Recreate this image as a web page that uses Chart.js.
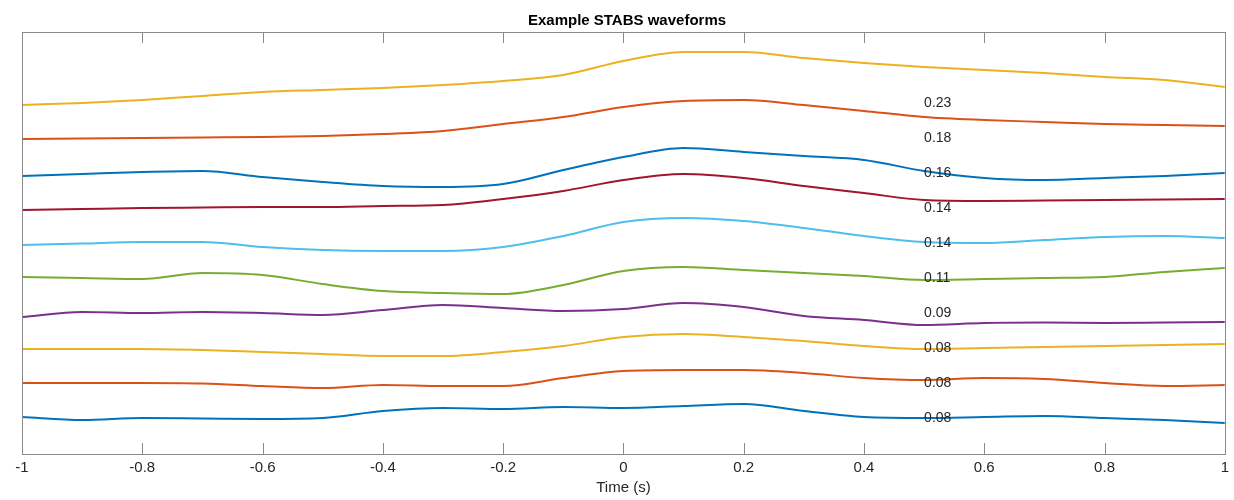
<!DOCTYPE html>
<html>
<head>
<meta charset="utf-8">
<script src="https://cdn.jsdelivr.net/npm/chart.js@4.4.1/dist/chart.umd.min.js"></script>
<style>
  html, body { margin: 0; padding: 0; background: #fff; }
  #wrap { width: 1234px; height: 500px; }
</style>
</head>
<body>
<div id="wrap"><canvas id="c" width="1234" height="500"></canvas></div>
<script>
// Time samples (s)
const times = [-1, -0.9, -0.8, -0.7, -0.6, -0.5, -0.4, -0.3, -0.2, -0.1, 0, 0.1, 0.2, 0.3, 0.4, 0.5, 0.6, 0.7, 0.8, 0.9, 1];

// Stacked waveform traces (vertical offset units, top of plot = 32, bottom = 454; larger = lower)
const trace1  = [105, 103, 100, 96, 92, 90, 88, 85, 81, 75, 61, 52, 52, 58, 63, 67, 70, 73, 77, 80, 87];
const trace2  = [139, 138.5, 138, 137.5, 137, 136, 134, 131, 124, 117, 107, 101, 100, 105, 111, 117, 120, 122, 124, 125, 126];
const trace3  = [176, 174, 172, 171, 177, 182, 186, 187, 184, 170, 157, 148, 152, 156, 160, 171, 178, 180, 178, 176, 173];
const trace4  = [210, 209, 208, 207.5, 207, 207, 206, 205, 199, 191, 180, 174, 178, 186, 193, 200, 201, 200.5, 200, 199.5, 199];
const trace5  = [245, 243.5, 242, 242, 247, 250, 251, 251, 247, 236, 222, 218, 221, 228, 236, 242, 243, 240, 237, 236, 238];
const trace6  = [277, 278, 279, 273, 275, 284, 291, 293, 294, 285, 271, 267, 270, 273, 276, 280, 279, 278, 277, 272, 268];
const trace7  = [317, 312, 313, 312, 313, 315, 310, 305, 308, 311, 309, 303, 307, 316, 320, 325, 323, 322.5, 323, 322.5, 322];
const trace8  = [349, 349, 349, 350, 352, 354, 356, 356, 352, 346, 337, 334, 337, 341, 346, 349, 348, 347, 346, 345, 344];
const trace9  = [383, 383, 383, 383.5, 386, 388, 385, 386, 386, 378, 371, 370, 370, 373, 378, 380, 378, 379, 383, 386, 385];
const trace10 = [417, 420, 418, 418.5, 419, 418, 411, 408, 409, 407, 408, 406, 404, 411, 417, 418, 417, 416, 418, 420, 423];

// Value labels next to traces
const labelTexts = ['0.23', '0.18', '0.16', '0.14', '0.14', '0.11', '0.09', '0.08', '0.08', '0.08'];
const labelYs = [103, 138, 173, 208, 243, 278, 313, 348, 383, 418];
const labelX = 0.5;

// X tick values
const xTicks = [-1, -0.8, -0.6, -0.4, -0.2, 0, 0.2, 0.4, 0.6, 0.8, 1];

const traces = [trace1, trace2, trace3, trace4, trace5, trace6, trace7, trace8, trace9, trace10];
const colors = ['#EDB120', '#D95319', '#0072BD', '#A2142F', '#4DBEEE', '#77AC30', '#7E2F8E', '#EDB120', '#D95319', '#0072BD'];

const FONT = '"Liberation Sans", Arial, Helvetica, sans-serif';
const TXT = '#262626';
const AXC = '#8a8a8a';

const datasets = traces.map((tr, i) => ({
  label: 'trace ' + (i + 1),
  data: tr.map((v, j) => ({ x: times[j], y: v })),
  borderColor: colors[i],
  borderWidth: 2,
  pointRadius: 0,
  fill: false,
  cubicInterpolationMode: 'monotone'
}));

const boxPlugin = {
  id: 'boxPlugin',
  afterDatasetsDraw(chart) {
    const { ctx, chartArea: a, scales } = chart;
    const xs = scales.x, ys = scales.y;
    ctx.save();
    // labels
    ctx.font = '14px ' + FONT;
    ctx.fillStyle = TXT;
    ctx.textAlign = 'left';
    ctx.textBaseline = 'middle';
    labelTexts.forEach((t, i) => {
      ctx.fillText(t, xs.getPixelForValue(labelX), ys.getPixelForValue(labelYs[i]));
    });
    // box
    ctx.strokeStyle = AXC;
    ctx.lineWidth = 1;
    ctx.strokeRect(Math.round(a.left) + 0.5, Math.round(a.top) + 0.5, Math.round(a.right - a.left), Math.round(a.bottom - a.top));
    // inner ticks top and bottom
    ctx.beginPath();
    xTicks.forEach(v => {
      const px = Math.round(xs.getPixelForValue(v)) + 0.5;
      ctx.moveTo(px, a.top); ctx.lineTo(px, a.top + 11);
      ctx.moveTo(px, a.bottom); ctx.lineTo(px, a.bottom - 11);
    });
    ctx.stroke();
    ctx.restore();
  }
};

new Chart(document.getElementById('c'), {
  type: 'line',
  data: { datasets },
  options: {
    responsive: false,
    animation: false,
    devicePixelRatio: 1,
    layout: { padding: { left: 22, right: 2, top: 0, bottom: 3 } },
    plugins: {
      legend: { display: false },
      tooltip: { enabled: false },
      title: {
        display: true,
        text: 'Example STABS waveforms',
        color: '#000',
        font: { family: FONT, size: 15, weight: 'bold' },
        padding: { top: 12, bottom: 2 }
      }
    },
    scales: {
      x: {
        type: 'linear',
        min: -1,
        max: 1,
        grid: { display: false, drawTicks: false },
        border: { display: false },
        afterBuildTicks: (scale) => { scale.ticks = xTicks.map(v => ({ value: v })); },
        ticks: {
          color: TXT,
          padding: 5,
          maxRotation: 0,
          autoSkip: false,
          font: { family: FONT, size: 15 },
          callback: (v) => String(Math.round(v * 10) / 10)
        },
        title: {
          display: true,
          text: 'Time (s)',
          color: TXT,
          font: { family: FONT, size: 15 },
          padding: { top: -3, bottom: 0 }
        }
      },
      y: {
        type: 'linear',
        display: false,
        reverse: true,
        min: 32,
        max: 454
      }
    }
  },
  plugins: [boxPlugin]
});
</script>
</body>
</html>
